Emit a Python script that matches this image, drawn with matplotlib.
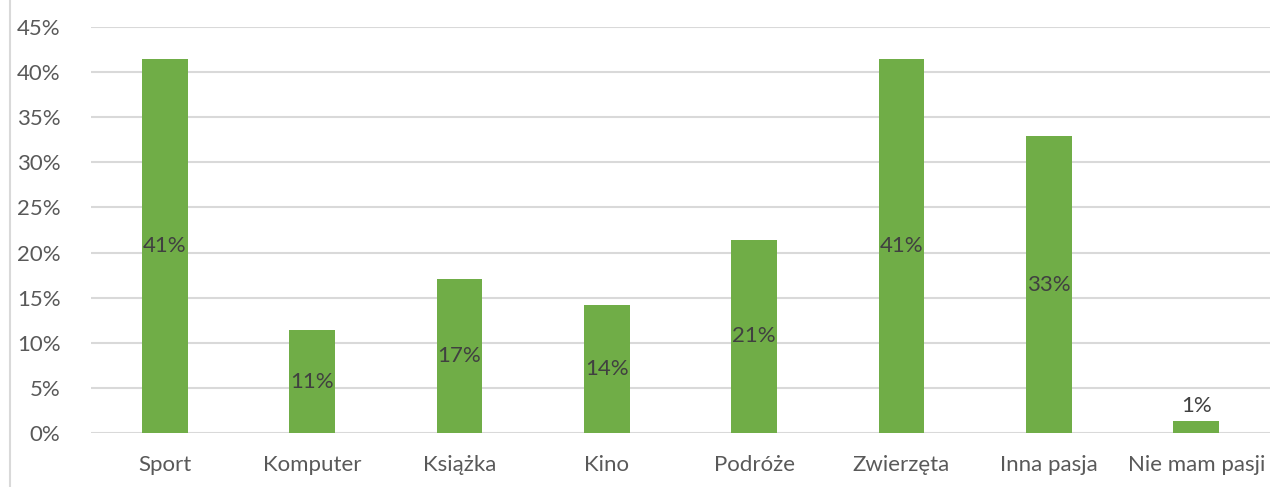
import matplotlib.pyplot as plt
from matplotlib.lines import Line2D

categories = ["Sport", "Komputer", "Książka", "Kino", "Podróże", "Zwierzęta", "Inna pasja", "Nie mam pasji"]
values = [41.4, 11.4, 17.1, 14.2, 21.4, 41.4, 32.9, 1.3]
y_ticks = [0, 5, 10, 15, 20, 25, 30, 35, 40, 45]

plt.rcParams['font.family'] = ['Lato', 'DejaVu Sans']

fig = plt.figure(figsize=(12.84, 4.87), dpi=100)
ax = fig.add_axes([0.0709, 0.1109, 0.9181, 0.8337])

x = range(len(categories))
bars = ax.bar(x, values, width=0.31, color="#70AD47", zorder=3)

for xi, v in zip(x, values):
    label = f"{v:.0f}%"
    if v < 4:
        ax.text(xi, v + 0.6, label, ha="center", va="bottom", fontsize=16, color="#404040", zorder=4)
    else:
        ax.text(xi, v / 2, label, ha="center", va="center", fontsize=16, color="#404040", zorder=4)

ax.set_xlim(-0.5, len(categories) - 0.5)
ax.set_ylim(0, 45)
ax.set_yticks(y_ticks)
ax.set_yticklabels([f"{t}%" for t in y_ticks])
ax.set_xticks(list(x))
ax.set_xticklabels(categories)
ax.yaxis.grid(True, color="#D9D9D9", linewidth=1.5, zorder=0)
ax.tick_params(axis="both", length=0, labelsize=16, colors="#595959")
ax.tick_params(axis="y", pad=22)
ax.tick_params(axis="x", pad=16)
for s in ax.spines.values():
    s.set_visible(False)

# left frame line of the chart box
fig.add_artist(Line2D([0.0075, 0.0075], [0, 1], color="#D9D9D9", linewidth=1.5, transform=fig.transFigure))

fig.savefig("out.png", dpi=100)
